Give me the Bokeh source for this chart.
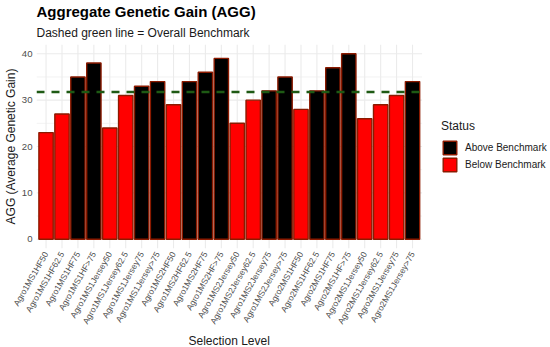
import math
from bokeh.plotting import figure
from bokeh.models import (ColumnDataSource, Range1d, Legend, LegendItem, Title,
                          FixedTicker)
from bokeh.embed import file_html
from bokeh.resources import INLINE

# ---- data ----
levels = [
    "Agro1MS1HF50", "Agro1MS1HF62.5", "Agro1MS1HF75", "Agro1MS1HF>75",
    "Agro1MS1Jersey50", "Agro1MS1Jersey62.5", "Agro1MS1Jersey75", "Agro1MS1Jersey>75",
    "Agro1MS2HF50", "Agro1MS2HF62.5", "Agro1MS2HF75", "Agro1MS2HF>75",
    "Agro1MS2Jersey50", "Agro1MS2Jersey62.5", "Agro1MS2Jersey75", "Agro1MS2Jersey>75",
    "Agro2MS1HF50", "Agro2MS1HF62.5", "Agro2MS1HF75", "Agro2MS1HF>75",
    "Agro2MS1Jersey50", "Agro2MS1Jersey62.5", "Agro2MS1Jersey75", "Agro2MS1Jersey>75",
]
agg = [23, 27, 35, 38, 24, 31, 33, 34,
       29, 34, 36, 39, 25, 30, 32, 35,
       28, 32, 37, 40, 26, 29, 31, 34]
benchmark = 31.75
status_labels = ["Above Benchmark", "Below Benchmark"]
status_colors = ["black", "red"]
y_major = [0, 10, 20, 30, 40]
y_minor = [5, 15, 25, 35]

FONT = "Liberation Sans"
GRID = "#EBEBEB"

pos = list(range(1, len(levels) + 1))          # category slots
x_lo, x_hi = 0.4, len(levels) + 0.6            # ggplot discrete expansion
y_lo, y_hi = -2, 42

above_src = ColumnDataSource(dict(
    x=[i for i, v in zip(pos, agg) if v > benchmark],
    top=[v for v in agg if v > benchmark]))
below_src = ColumnDataSource(dict(
    x=[i for i, v in zip(pos, agg) if v <= benchmark],
    top=[v for v in agg if v <= benchmark]))

p = figure(width=550, height=347,
           x_range=Range1d(x_lo, 32.66), y_range=Range1d(y_lo, y_hi),
           output_backend="svg", toolbar_location=None,
           min_border_left=0, min_border_right=0,
           min_border_top=0, min_border_bottom=0)
p.outline_line_color = None
p.background_fill_color = "white"
p.border_fill_color = "white"
p.xgrid.visible = False
p.ygrid.visible = False

# titles (later-added titles sit closer to the frame)
p.title.text = "Aggregate Genetic Gain (AGG)"
p.title.text_font = FONT
p.title.text_font_size = "15px"
p.title.text_font_style = "bold"
p.title.text_color = "black"
p.title.standoff = 0
p.title.offset = 0
p.add_layout(Title(text="Dashed green line = Overall Benchmark", text_font=FONT,
                   text_font_size="12px", text_font_style="normal",
                   text_color="#1a1a1a", standoff=9), "above")

# panel grid limited to the panel area
p.segment(x0=x_lo, x1=x_hi, y0=y_minor, y1=y_minor, line_color=GRID, line_width=0.6)
p.segment(x0=x_lo, x1=x_hi, y0=y_major, y1=y_major, line_color=GRID, line_width=1.1)
p.segment(x0=pos, x1=pos, y0=y_lo, y1=y_hi, line_color=GRID, line_width=1.1)

r_above = p.vbar(x="x", top="top", bottom=0, width=0.9, source=above_src,
                 fill_color=status_colors[0], line_color="#8B1A00", line_width=1.4)
r_below = p.vbar(x="x", top="top", bottom=0, width=0.9, source=below_src,
                 fill_color=status_colors[1], line_color="#8B1A00", line_width=1.4)

p.segment(x0=x_lo, x1=x_hi, y0=benchmark, y1=benchmark, line_color="#1E5A14",
          line_width=2.5, line_dash="8 7")

for ax in (p.xaxis[0], p.yaxis[0]):
    ax.axis_line_color = None
    ax.major_tick_line_color = None
    ax.minor_tick_line_color = None
    ax.major_tick_out = 0
    ax.major_tick_in = 0
    ax.minor_tick_out = 0
    ax.minor_tick_in = 0
    ax.major_label_text_font = FONT
    ax.major_label_text_color = "#4D4D4D"
    ax.axis_label_text_font = FONT
    ax.axis_label_text_font_size = "12px"
    ax.axis_label_text_font_style = "normal"
    ax.axis_label_text_color = "#1a1a1a"

p.yaxis.ticker = FixedTicker(ticks=y_major, minor_ticks=[])
p.yaxis.major_label_text_font_size = "9.6px"
p.yaxis.major_label_standoff = 4
p.yaxis.axis_label = "AGG (Average Genetic Gain)"
p.yaxis.axis_label_standoff = 1

p.xaxis.ticker = FixedTicker(ticks=pos, minor_ticks=[])
p.xaxis.major_label_overrides = {i: name for i, name in zip(pos, levels)}
p.xaxis.major_label_text_font_size = "8.5px"
p.xaxis.major_label_orientation = math.pi / 3
p.xaxis.major_label_standoff = 4

# x-axis title, centred under the panel
p.add_layout(Title(text="Selection Level", text_font=FONT, text_font_size="12px",
                   text_font_style="normal", text_color="#1a1a1a",
                   align="left", offset=152, standoff=0), "below")

legend = Legend(items=[LegendItem(label=status_labels[0], renderers=[r_above]),
                       LegendItem(label=status_labels[1], renderers=[r_below])],
                title="Status", location=(405, 75), margin=0, padding=0,
                spacing=0, glyph_width=17, glyph_height=17, label_height=17,
                label_standoff=7, label_text_font=FONT, label_text_font_size="10px",
                label_text_color="#1a1a1a",
                title_text_font=FONT, title_text_font_size="12px", title_text_font_style="normal",
                title_text_color="#1a1a1a", title_standoff=6,
                border_line_color=None, background_fill_alpha=0)
p.add_layout(legend, "center")

open("out.html", "w").write(file_html(p, INLINE))
